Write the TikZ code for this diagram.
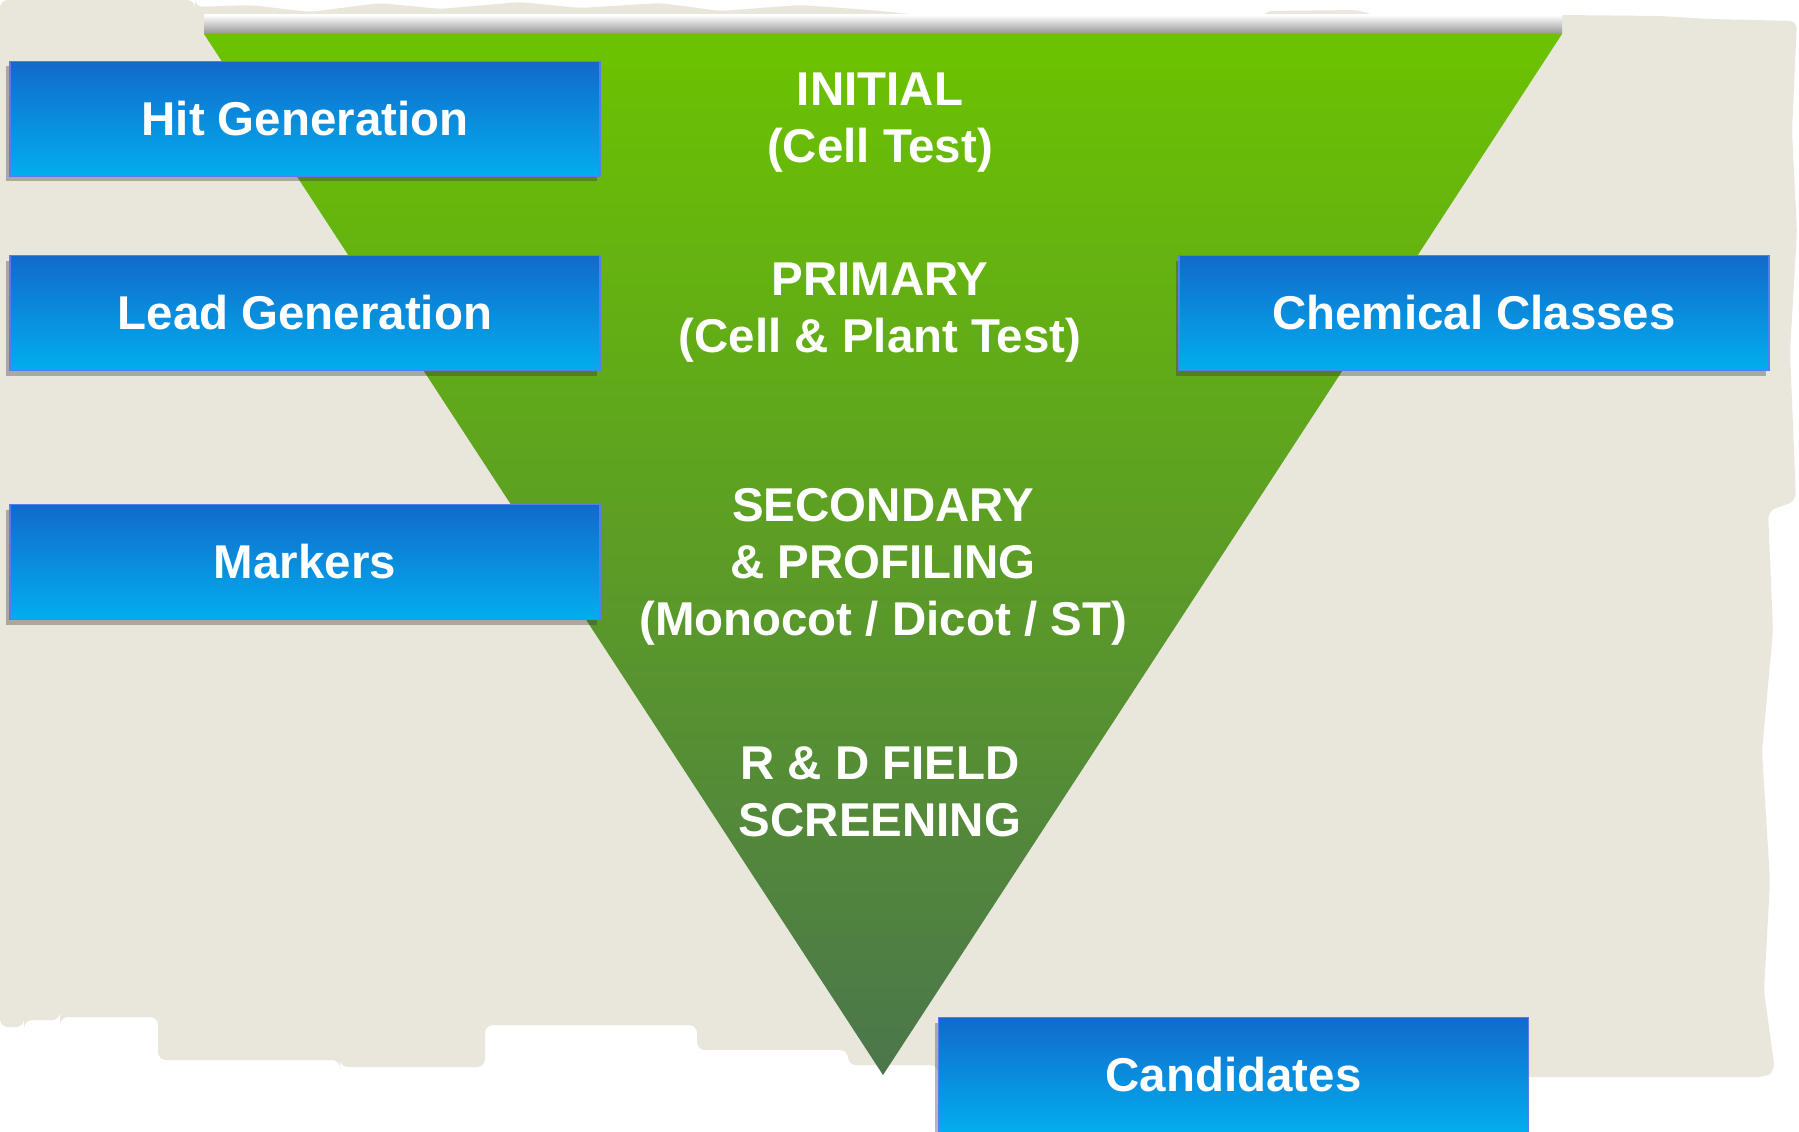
\documentclass[tikz,border=0pt]{standalone}
\usepackage{fontspec}
\setmainfont{Liberation Sans}
\usepackage{tikz}
\usetikzlibrary{shapes, shadows, positioning}
\definecolor{paper}{RGB}{233,231,220}
\definecolor{boxtop}{RGB}{17,106,203}
\definecolor{boxbottom}{RGB}{2,174,238}
\definecolor{boxline}{RGB}{88,124,238}
\definecolor{funneltop}{RGB}{108,195,0}
\definecolor{funnelbottom}{RGB}{75,118,76}
\tikzstyle{stagebox} = [rectangle, minimum width=59mm, minimum height=11.5mm, inner sep=0pt, outer sep=0pt, text centered, draw=boxline, line width=0.4pt, top color=boxtop, bottom color=boxbottom, text=white, font=\bfseries\fontsize{13.5}{16.2}\selectfont, drop shadow={shadow xshift=-0.35mm, shadow yshift=-0.5mm, opacity=0.35, fill=black!80}]
\tikzstyle{stagetext} = [align=center, text=white, inner sep=0pt, font=\bfseries\fontsize{13.5}{16.2}\selectfont]

\begin{document}
\begin{tikzpicture}[x=1mm, y=1mm, node distance=19.4mm]
	\useasboundingbox (0,0) rectangle (179.9,113.1);
	\fill[white] (0,0) rectangle (179.9,113.1);
	% torn paper
	\fill[paper, rounded corners=0.8mm] (0,113.1) -- (19.5,113.1) -- (19.5,112.4) -- (25,112.6) -- (31,111.9) -- (38,112.8) -- (44,112.2) -- (52,112.9) -- (58,112.3) -- (66,112.8) -- (72,112.0) -- (80,112.6) -- (87,112.1) -- (95,111.3) -- (126,111.2) -- (126.5,112.0) -- (136,112.1) -- (137,111.6) -- (156,111.6) -- (166,111.5) -- (171,111.2) -- (179.7,111.0) -- (179.2,100) -- (179.7,90) -- (179.0,78) -- (179.6,63) -- (176.8,62) -- (177.3,50) -- (176.2,38) -- (177.0,25) -- (176.4,14) -- (177.5,6) -- (176.5,5.4) -- (93.8,5.4) -- (93.8,6.6) -- (84.8,6.6) -- (84.8,8.1) -- (69.7,8.1) -- (69.7,10.6) -- (48.5,10.6) -- (48.5,6.4) -- (34,6.4) -- (34,7.1) -- (15.8,7.1) -- (15.8,11.4) -- (6,11.4) -- (6,11.1) -- (2.4,11.1) -- (2.4,10.4) -- (0,10.4) -- cycle;
	% funnel
	\coordinate (tl) at (20.4,109.7);
	\coordinate (tr) at (156.2,109.7);
	\coordinate (tip) at (88.3,5.6);
	\shade[top color=white, bottom color=black!42] (tl) rectangle ([yshift=1.9mm]tr);
	\shade[top color=funneltop, bottom color=funnelbottom] (tl) -- (tr) -- (tip) -- cycle;
	% stages
	\node (initial) [stagetext] at (88,100.8) {INITIAL\\(Cell Test)};
	\node (primary) [stagetext] at (88,81.8) {PRIMARY\\(Cell \& Plant Test)};
	\node (secondary) [stagetext] at (88.3,56.4) {SECONDARY\\\& PROFILING\\(Monocot / Dicot / ST)};
	\node (field) [stagetext] at (88,33.9) {R \& D FIELD\\SCREENING};
	% boxes
	\node (hit) [stagebox] at (30.5,101.2) {Hit Generation};
	\node (lead) [stagebox, below of = hit] {Lead Generation};
	\node (markers) [stagebox, below of = lead, node distance=24.9mm] {Markers};
	\node (chem) [stagebox, right of = lead, node distance=116.9mm] {Chemical Classes};
	\node (cand) [stagebox] at (123.35,5.6) {Candidates};
\end{tikzpicture}
\end{document}
